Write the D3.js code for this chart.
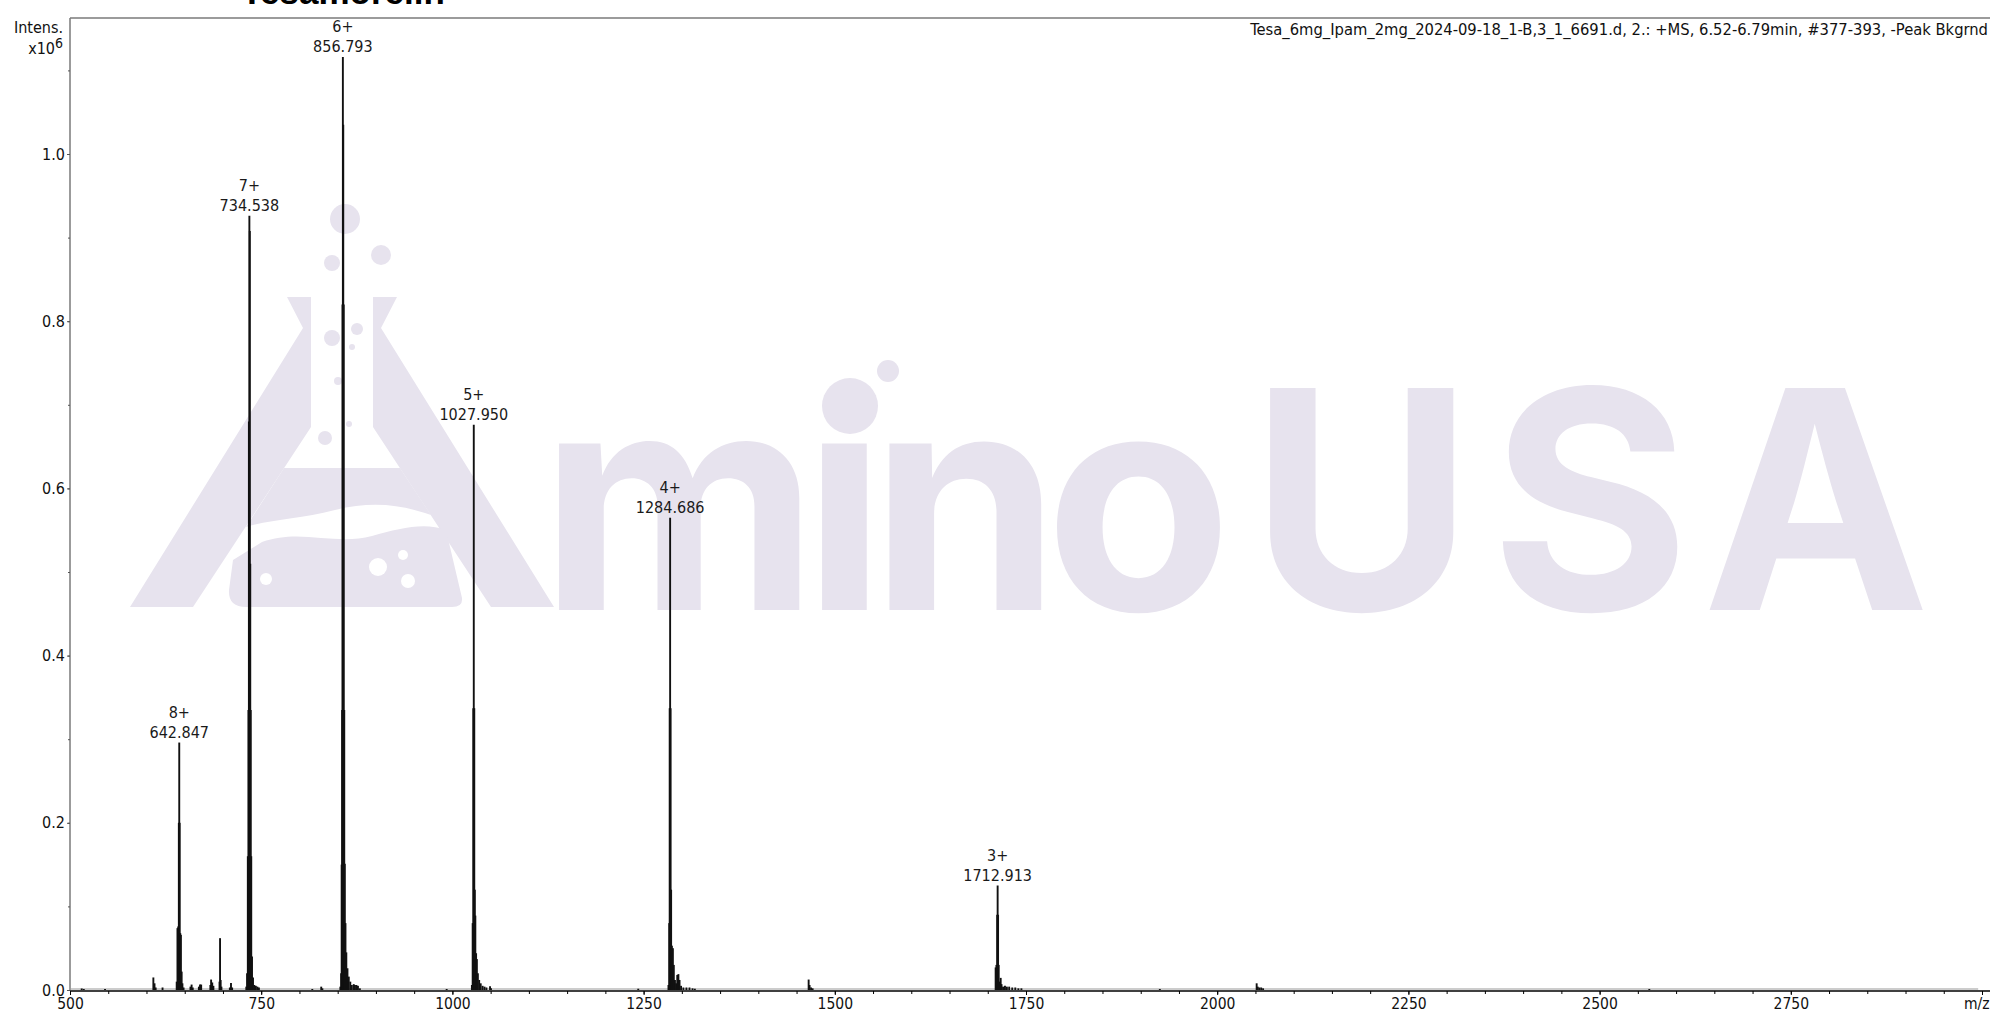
<!DOCTYPE html>
<html>
<head>
<meta charset="utf-8">
<script src="https://cdn.jsdelivr.net/npm/d3@7"></script>
<style>
html, body { margin: 0; padding: 0; background: #fff; overflow: hidden; }
svg { display: block; }
text { font-family: "DejaVu Sans Condensed", "DejaVu Sans", sans-serif; }
</style>
</head>
<body>
<div id="chart"></div>
<script>
let width = 1990;
let height = 1012;

// labelled peaks (m/z, charge, intensity x10^6)
const peakMz = [642.847, 734.538, 856.793, 1027.950, 1284.686, 1712.913];
const peakCharge = ["8+", "7+", "6+", "5+", "4+", "3+"];
const peakInt = [0.296, 0.926, 1.116, 0.676, 0.565, 0.125];

// profile trace (m/z, intensity x10^6)
const stickMz = [
    515.3, 518.0, 545.8, 609.0, 610.5, 612.0, 621.0,
    // 8+
    639.5, 640.5, 641.5, 642.3, 642.847, 643.4, 644.2, 645.0, 646.0, 647.0, 648.5,
    657.5, 659.0, 660.5, 668.5, 670.0, 671.5, 683.5, 684.5, 686.0, 687.5,
    695.5, 696.2, 697.0, 698.0, 709.0, 710.5, 712.0,
    // 7+
    730.5, 731.5, 732.5, 733.3, 733.9, 734.538, 735.1, 735.7, 736.3, 737.0, 738.0,
    739.3, 741.0, 743.0, 745.0, 747.0,
    816.8, 828.5, 830.0,
    // 6+
    853.5, 854.5, 855.2, 855.8, 856.3, 856.793, 857.3, 857.9, 858.6, 859.3, 860.2,
    861.3, 862.8, 864.5, 866.5, 868.5, 871.0, 872.6, 874.5, 876.5, 879.0,
    992.5,
    // 5+
    1025.5, 1026.5, 1027.3, 1027.95, 1028.6, 1029.3, 1030.0, 1031.0, 1032.0, 1033.3,
    1035.0, 1037.0, 1039.5, 1042.0, 1044.5, 1049.2, 1050.5,
    1243.0,
    // 4+
    1282.5, 1283.5, 1284.1, 1284.686, 1285.3, 1286.0, 1287.0, 1288.3, 1289.5, 1291.0,
    1292.5, 1294.0, 1295.5, 1297.0, 1299.0, 1302.0, 1306.0, 1310.0, 1314.0, 1317.0,
    1465.8, 1467.0, 1469.0, 1471.0,
    // 3+
    1710.3, 1711.3, 1712.3, 1712.913, 1713.5, 1714.3, 1715.3, 1716.9, 1718.0, 1720.0,
    1722.5, 1725.0, 1728.0, 1732.0, 1736.0, 1740.0, 1744.0,
    1925.0, 2051.6, 2053.0, 2055.0, 2057.5, 2060.0, 2565.0
];
const stickInt = [
    0.0018, 0.0012, 0.0012, 0.015, 0.008, 0.003, 0.003,
    0.010, 0.074, 0.076, 0.20, 0.296, 0.20, 0.068, 0.066, 0.022, 0.008, 0.003,
    0.004, 0.0065, 0.003, 0.004, 0.0065, 0.0065, 0.006, 0.0125, 0.009, 0.005,
    0.010, 0.062, 0.012, 0.004, 0.003, 0.0085, 0.003,
    0.004, 0.02, 0.16, 0.335, 0.68, 0.926, 0.908, 0.51, 0.335, 0.16, 0.04,
    0.015, 0.006, 0.005, 0.004, 0.003,
    0.0012, 0.004, 0.002,
    0.004, 0.02, 0.15, 0.335, 0.82, 1.116, 1.035, 0.82, 0.335, 0.151, 0.08,
    0.045, 0.026, 0.016, 0.01, 0.006, 0.007, 0.006, 0.006, 0.005, 0.002,
    0.0012,
    0.006, 0.08, 0.337, 0.676, 0.337, 0.12, 0.089, 0.044, 0.037, 0.02,
    0.012, 0.008, 0.005, 0.004, 0.003, 0.0045, 0.002,
    0.0015,
    0.006, 0.08, 0.337, 0.565, 0.337, 0.12, 0.053, 0.05, 0.03, 0.012,
    0.008, 0.018, 0.019, 0.012, 0.005, 0.003, 0.003, 0.003, 0.002, 0.0015,
    0.0125, 0.006, 0.003, 0.002,
    0.027, 0.03, 0.09, 0.125, 0.09, 0.03, 0.01, 0.0145, 0.007, 0.004,
    0.005, 0.004, 0.004, 0.003, 0.003, 0.002, 0.002,
    0.0012, 0.008, 0.004, 0.003, 0.003, 0.002, 0.0012
];

const xMajor = [500, 750, 1000, 1250, 1500, 1750, 2000, 2250, 2500, 2750, 3000];
const xMinor = d3.range(500, 3001, 50);
const yMajor = [0, 0.2, 0.4, 0.6, 0.8, 1.0];
const yMinor = d3.range(0, 1.15, 0.1);

const title = "Tesamorelin";
const runInfo = "Tesa_6mg_Ipam_2mg_2024-09-18_1-B,3_1_6691.d, 2.: +MS, 6.52-6.79min, #377-393, -Peak Bkgrnd";

const x = d3.scaleLinear().domain([500, 3000]).range([70, 1982]);
const y = d3.scaleLinear().domain([0, 1]).range([990, 154]);
const plotTop = 18;
const tickFont = "'DejaVu Sans Condensed', 'DejaVu Sans', sans-serif";

let svg = d3.select("#chart")
    .append("svg")
    .attr("width", width)
    .attr("height", height);

// watermark (flask + "Amino USA")
const wm = svg.append("g").attr("fill", "#e7e3ee");
const legL = [[130,607],[303,328],[287,297],[311,297],[311,427],[193,607]];
const legR = legL.map(p => [684 - p[0], p[1]]);
[legL, legR].forEach(p => wm.append("polygon").attr("points", p.join(" ")));
wm.append("path").attr("d", "M284,468 L400,468 L431,515 C405,506 375,500 335,510 C300,519 272,519 246,527 Z");
wm.append("path").attr("d", "M262,542 C300,528 335,546 372,536 C400,528 425,522 446,530 L462,598 Q463,607 452,607 L246,607 Q228,607 229,590 L233,560 Z");
const bubbles = [[345,219,15],[381,255,10],[332,263,8],[332,338,8],[357,329,6],[352,347,3],[338,381,4],[349,424,3],[325,438,7],[850,406,28],[888,371,11]];
wm.selectAll("circle.b").data(bubbles).join("circle").attr("class", "b")
    .attr("cx", d => d[0]).attr("cy", d => d[1]).attr("r", d => d[2]);
const holes = [[378,567,9],[403,555,5],[408,581,7],[266,579,6]];
wm.selectAll("circle.h").data(holes).join("circle").attr("class", "h")
    .attr("cx", d => d[0]).attr("cy", d => d[1]).attr("r", d => d[2]).attr("fill", "#fff");
wm.append("text").attr("x", 540).attr("y", 610)
    .style("font-family", "Inter, 'Open Sans', sans-serif").style("font-weight", 700)
    .style("font-size", "305px").attr("textLength", 692).attr("lengthAdjust", "spacing")
    .text("m\u0131no");
wm.append("text").attr("x", 1250).attr("y", 610)
    .style("font-family", "Inter, 'Open Sans', sans-serif").style("font-weight", 700)
    .style("font-size", "305px").attr("textLength", 680).attr("lengthAdjust", "spacing")
    .text("USA");

// frame
svg.append("line").attr("x1", 70).attr("x2", 70).attr("y1", plotTop).attr("y2", y(0))
    .attr("stroke", "#7a7a7a").attr("stroke-width", 1.5);
svg.append("line").attr("x1", 70).attr("x2", width).attr("y1", plotTop).attr("y2", plotTop)
    .attr("stroke", "#7a7a7a").attr("stroke-width", 1.5);

// axes
const xMinorAxis = svg.append("g")
    .attr("transform", `translate(0,${y(0) + 1})`)
    .call(d3.axisBottom(x).tickValues(xMinor).tickSize(3).tickSizeOuter(0).tickFormat(""));
xMinorAxis.select(".domain").remove();

const xAxis = svg.append("g")
    .attr("transform", `translate(0,${y(0) + 1})`)
    .call(d3.axisBottom(x).tickValues(xMajor).tickSize(4).tickSizeOuter(0).tickPadding(3)
        .tickFormat(d => d === 3000 ? "m/z" : d));
xAxis.select(".domain").attr("d", `M70,0H${width}`).attr("stroke", "#000").attr("stroke-width", 1.3);
xAxis.selectAll("text").style("font-size", "15.5px").style("font-family", tickFont).attr("fill", "#111");
xAxis.selectAll(".tick").filter(d => d === 3000).select("text")
    .attr("text-anchor", "end").attr("x", width - 1 - x(3000));

const yMinorAxis = svg.append("g")
    .attr("transform", "translate(70,0)")
    .call(d3.axisLeft(y).tickValues(yMinor).tickSize(2).tickFormat(""));
yMinorAxis.select(".domain").remove();
yMinorAxis.selectAll("line").attr("stroke", "#555");

const yAxis = svg.append("g")
    .attr("transform", "translate(70,0)")
    .call(d3.axisLeft(y).tickValues(yMajor).tickSize(3).tickPadding(2).tickFormat(d3.format(".1f")));
yAxis.select(".domain").remove();
yAxis.selectAll("line").attr("stroke", "#555");
yAxis.selectAll("text").style("font-size", "16px").style("font-family", tickFont).attr("fill", "#111");

// baseline of the trace
svg.append("line").attr("x1", x(500)).attr("x2", x(2995)).attr("y1", y(0) - 1).attr("y2", y(0) - 1)
    .attr("stroke", "#9a9a9a").attr("stroke-width", 1.2);

// spectrum
const sticks = stickMz.map((m, i) => ({mz: m, v: stickInt[i]}));
svg.append("g")
    .selectAll("line")
    .data(sticks)
    .join("line")
    .attr("x1", d => x(d.mz))
    .attr("x2", d => x(d.mz))
    .attr("y1", y(0))
    .attr("y2", d => y(d.v))
    .attr("stroke", "#111")
    .attr("stroke-width", 1.9);

// peak labels
const peaks = peakMz.map((m, i) => ({mz: m, z: peakCharge[i], v: peakInt[i]}));
const lab = svg.append("g")
    .attr("text-anchor", "middle")
    .style("font-size", "16px")
    .attr("fill", "#1a1a1a")
    .selectAll("g")
    .data(peaks)
    .join("g");
lab.append("text").attr("x", d => x(d.mz)).attr("y", d => y(d.v) - 25).text(d => d.z);
lab.append("text").attr("x", d => x(d.mz)).attr("y", d => y(d.v) - 5).text(d => d3.format(".3f")(d.mz));

// y label
svg.append("text").attr("x", 63).attr("y", 33).attr("text-anchor", "end")
    .style("font-size", "16px").attr("fill", "#111").text("Intens.");
const xl = svg.append("text").attr("x", 63).attr("y", 54).attr("text-anchor", "end")
    .style("font-size", "16px").attr("fill", "#111");
xl.append("tspan").text("x10");
xl.append("tspan").attr("dy", -6).style("font-size", "14px").text("6");

// run info & title
svg.append("text").attr("x", 1988).attr("y", 35).attr("text-anchor", "end")
    .style("font-family", "'Liberation Sans Narrow', 'DejaVu Sans Condensed', sans-serif")
    .style("font-size", "16.4px").attr("fill", "#111").text(runInfo);
svg.append("text").attr("x", 343).attr("y", 4).attr("text-anchor", "middle")
    .style("font-family", "'Liberation Sans', Arial, sans-serif").style("font-weight", "bold")
    .style("font-size", "35px").attr("fill", "#000").text(title);
</script>
</body>
</html>
